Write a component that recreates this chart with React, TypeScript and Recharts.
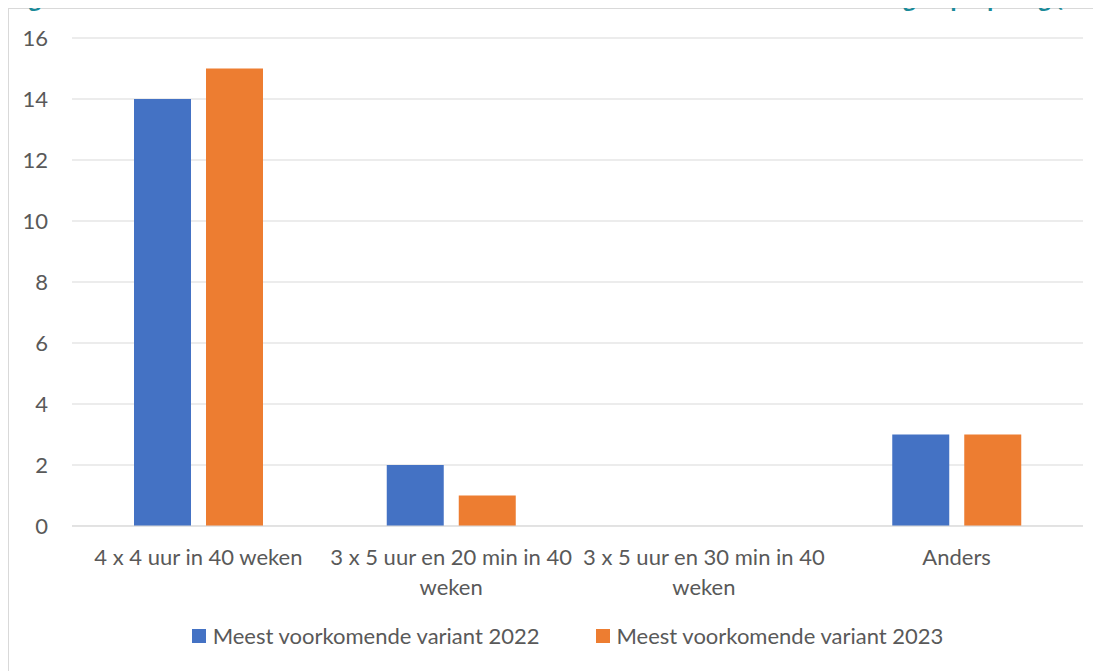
import { Bar, BarChart, CartesianGrid, Legend, XAxis, YAxis } from "recharts";

const categories = [
  "4 x 4 uur in 40 weken",
  "3 x 5 uur en 20 min in 40 weken",
  "3 x 5 uur en 30 min in 40 weken",
  "Anders",
];
const values2022 = [14, 2, 0, 3];
const values2023 = [15, 1, 0, 3];
const yTicks = [0, 2, 4, 6, 8, 10, 12, 14, 16];

const data = categories.map((name, i) => ({
  name,
  v2022: values2022[i],
  v2023: values2023[i],
}));

const font = "Lato, 'Open Sans', sans-serif";
const textGray = "#595959";

function wrapLabel(label: string, maxChars: number) {
  const lines: string[] = [];
  let cur = "";
  for (const w of label.split(" ")) {
    const next = cur ? cur + " " + w : w;
    if (next.length > maxChars && cur) {
      lines.push(cur);
      cur = w;
    } else {
      cur = next;
    }
  }
  if (cur) lines.push(cur);
  return lines;
}

function CategoryTick(props: any) {
  const { x, y, payload } = props;
  const lines = wrapLabel(payload.value, 25);
  return (
    <text x={x} y={y + 31} textAnchor="middle" fill={textGray} fontSize={22} fontFamily={font}>
      {lines.map((l, i) => (
        <tspan key={i} x={x} dy={i === 0 ? 0 : 30}>
          {l}
        </tspan>
      ))}
    </text>
  );
}

function LegendContent(props: any) {
  const { payload } = props;
  return (
    <div style={{ display: "flex", justifyContent: "center", gap: 56, paddingLeft: 30, fontFamily: font, fontSize: 22, color: textGray }}>
      {payload.map((p: any) => (
        <div key={p.value} style={{ display: "flex", alignItems: "center", gap: 7 }}>
          <span style={{ display: "inline-block", width: 14, height: 14, background: p.color }} />
          <span>{p.value}</span>
        </div>
      ))}
    </div>
  );
}

export default function App() {
  return (
    <div style={{ position: "relative", width: 1092, height: 662, borderLeft: "1px solid #d9d9d9", borderTop: "1px solid #d9d9d9" }}>
      <div
        style={{
          position: "absolute",
          top: -23,
          left: 2,
          zIndex: 2,
          whiteSpace: "nowrap",
          fontSize: 21,
          lineHeight: "24px",
          fontWeight: 700,
          color: "#1a8a99",
          fontFamily: "'Open Sans', sans-serif",
        }}
      >
        Figuur 4 Meest voorkomende variant in aantal uren en weken voorschoolse educatie groepsopvang (2022/2023)
      </div>
      <BarChart
        width={1092}
        height={662}
        data={data}
        margin={{ top: 29, right: 18, left: 13, bottom: 19 }}
        barGap={15}
        barSize={57}
      >
        <CartesianGrid vertical={false} stroke="#d9d9d9" />
        <XAxis
          dataKey="name"
          axisLine={{ stroke: "#d9d9d9" }}
          tickLine={false}
          interval={0}
          height={96}
          tick={<CategoryTick />}
        />
        <YAxis
          width={50}
          domain={[0, 16]}
          ticks={yTicks}
          axisLine={false}
          tickLine={false}
          tick={{ fontSize: 22, fill: textGray, fontFamily: font }}
          tickMargin={18}
        />
        <Legend verticalAlign="bottom" height={30} content={<LegendContent />} />
        <Bar dataKey="v2022" name="Meest voorkomende variant 2022" fill="#4472C4" isAnimationActive={false} />
        <Bar dataKey="v2023" name="Meest voorkomende variant 2023" fill="#ED7D31" isAnimationActive={false} />
      </BarChart>
    </div>
  );
}
